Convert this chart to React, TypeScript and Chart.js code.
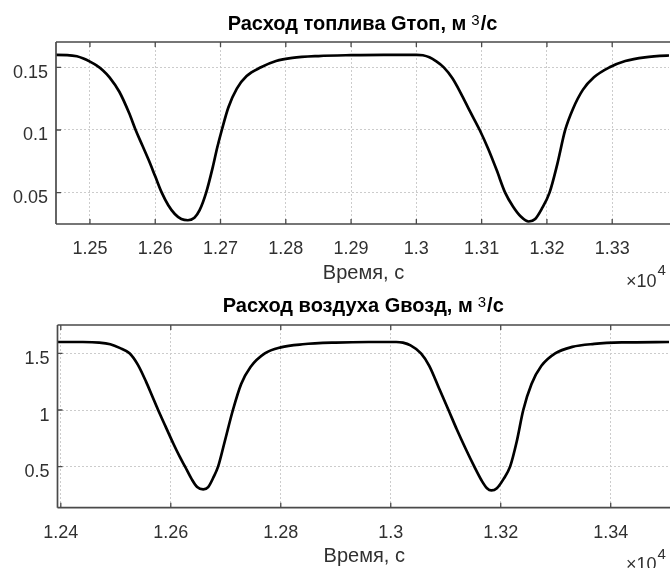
import React, { useEffect, useRef } from 'react';
import { Chart, registerables } from 'chart.js';

Chart.register(...registerables);

// ---------- data ----------
const fuelTime = [
  12440, 12465, 12480, 12490, 12500, 12510, 12520, 12530, 12545, 12560, 12570, 12580, 12590, 12600,
  12610, 12620, 12630, 12640, 12650, 12660, 12668, 12678, 12688, 12695, 12702, 12712, 12725, 12740,
  12762, 12785, 12810, 12850, 12900, 12950, 13000, 13010, 13020, 13030, 13042, 13055, 13068, 13082,
  13097, 13110, 13123, 13136, 13148, 13160, 13172, 13182, 13192, 13204, 13216, 13228, 13240, 13255,
  13272, 13296, 13320, 13350, 13400,
];
const fuelFlow = [
  0.16, 0.1598, 0.1588, 0.157, 0.1545, 0.1515, 0.1475, 0.142, 0.1305, 0.1135, 0.1, 0.088, 0.076, 0.063,
  0.05, 0.04, 0.033, 0.029, 0.028, 0.03, 0.036, 0.05, 0.07, 0.086, 0.1, 0.118, 0.133, 0.143,
  0.15, 0.155, 0.1575, 0.159, 0.1597, 0.16, 0.16, 0.1596, 0.158, 0.155, 0.15, 0.1415, 0.1295, 0.115,
  0.1, 0.085, 0.068, 0.05, 0.039, 0.031, 0.027, 0.029, 0.037, 0.05, 0.073, 0.1, 0.117, 0.132,
  0.142, 0.15, 0.155, 0.158, 0.1598,
];

const airTime = [
  12390, 12440, 12470, 12490, 12507, 12525, 12540, 12555, 12566, 12577, 12590, 12605, 12616, 12626,
  12638, 12648, 12659, 12668, 12677, 12686, 12698, 12713, 12728, 12745, 12771, 12800, 12840, 12900,
  12960, 13010, 13022, 13036, 13055, 13070, 13088, 13105, 13120, 13136, 13152, 13165, 13175, 13183,
  13193, 13205, 13217, 13229, 13241, 13256, 13274, 13299, 13330, 13370, 13420, 13510,
];
const airFlow = [
  1.6, 1.6, 1.595, 1.58, 1.548, 1.5, 1.4, 1.25, 1.125, 1.0, 0.86, 0.7, 0.59, 0.5,
  0.39, 0.32, 0.3, 0.32, 0.4, 0.5, 0.72, 1.0, 1.23, 1.38, 1.5, 1.553, 1.58, 1.595,
  1.6, 1.6, 1.594, 1.57, 1.5, 1.39, 1.19, 1.0, 0.83, 0.66, 0.5, 0.38, 0.31, 0.29,
  0.31, 0.39, 0.5, 0.72, 1.0, 1.23, 1.39, 1.5, 1.557, 1.583, 1.596, 1.6,
];

const fuelXTicks = [12500, 12600, 12700, 12800, 12900, 13000, 13100, 13200, 13300];
const fuelXLabels = ['1.25', '1.26', '1.27', '1.28', '1.29', '1.3', '1.31', '1.32', '1.33'];
const fuelYTicks = [0.05, 0.1, 0.15];
const fuelYLabels = ['0.05', '0.1', '0.15'];

const airXTicks = [12400, 12600, 12800, 13000, 13200, 13400];
const airXLabels = ['1.24', '1.26', '1.28', '1.3', '1.32', '1.34'];
const airYTicks = [0.5, 1, 1.5];
const airYLabels = ['0.5', '1', '1.5'];

const fuelTitle = 'Расход топлива Gтоп, м';
const airTitle = 'Расход воздуха Gвозд, м';
const unitPower = '3';
const unitTail = '/с';
const xAxisTitle = 'Время, с';
const expBase = '×10';
const expPower = '4';

// ---------- styling ----------
const FONT = '"Liberation Sans", Arial, Helvetica, sans-serif';
const AXIS_COLOR = '#4a4a4a';
const TEXT_COLOR = '#303030';
const GRID_COLOR = '#cccccc';

type PanelSpec = {
  height: number;
  left: number;
  top: number;
  bottom: number;
  right: number;
  xMin: number;
  xMax: number;
  yMin: number;
  yMax: number;
  time: number[];
  flow: number[];
  xTicks: number[];
  xLabels: string[];
  yTicks: number[];
  yLabels: string[];
  title: string;
  titleBaseline: number;
};

function makeDecor(p: PanelSpec) {
  return {
    id: 'matlabDecor',
    afterDraw(chart: any) {
      const { ctx, chartArea: a, scales } = chart;
      const xs = scales.x;
      const ys = scales.y;
      ctx.save();
      // box
      ctx.strokeStyle = AXIS_COLOR;
      ctx.lineWidth = 1.7;
      ctx.beginPath();
      ctx.moveTo(a.left, a.top);
      ctx.lineTo(a.right + 5, a.top);
      ctx.moveTo(a.left, a.top);
      ctx.lineTo(a.left, a.bottom);
      ctx.moveTo(a.left, a.bottom);
      ctx.lineTo(a.right + 5, a.bottom);
      ctx.stroke();
      // inward ticks
      ctx.lineWidth = 1.3;
      ctx.beginPath();
      xs.ticks.forEach((t: any) => {
        const px = xs.getPixelForValue(t.value);
        ctx.moveTo(px, a.bottom);
        ctx.lineTo(px, a.bottom - 5);
        ctx.moveTo(px, a.top);
        ctx.lineTo(px, a.top + 5);
      });
      ys.ticks.forEach((t: any) => {
        const py = ys.getPixelForValue(t.value);
        ctx.moveTo(a.left, py);
        ctx.lineTo(a.left + 5, py);
      });
      ctx.stroke();

      // tick labels
      ctx.fillStyle = TEXT_COLOR;
      ctx.font = `18px ${FONT}`;
      ctx.textBaseline = 'alphabetic';
      ctx.textAlign = 'center';
      xs.ticks.forEach((t: any) => {
        const i = p.xTicks.indexOf(t.value);
        ctx.fillText(p.xLabels[i], xs.getPixelForValue(t.value), a.bottom + 30);
      });
      ctx.textAlign = 'right';
      ys.ticks.forEach((t: any) => {
        const i = p.yTicks.indexOf(t.value);
        ctx.fillText(p.yLabels[i], a.left - 8, ys.getPixelForValue(t.value) + 10.5);
      });

      // axis title
      const cx = (a.left + a.right) / 2;
      ctx.textAlign = 'center';
      ctx.font = `20px ${FONT}`;
      ctx.fillText(xAxisTitle, cx + 1, a.bottom + 54.5);

      // exponent
      ctx.textAlign = 'left';
      ctx.font = `18px ${FONT}`;
      ctx.fillText(expBase, 626, a.bottom + 62.5);
      const bw = ctx.measureText(expBase).width;
      ctx.font = `15px ${FONT}`;
      ctx.fillText(expPower, 626 + bw + 1, a.bottom + 51);

      // title with superscript
      ctx.fillStyle = '#000';
      ctx.font = `bold 20px ${FONT}`;
      const w1 = ctx.measureText(p.title).width;
      const w3 = ctx.measureText(unitTail).width;
      ctx.font = `15px ${FONT}`;
      const w2 = ctx.measureText(unitPower).width;
      const gap = 5;
      const total = w1 + gap + w2 + 1 + w3;
      let x0 = cx - total / 2;
      ctx.font = `bold 20px ${FONT}`;
      ctx.fillText(p.title, x0, p.titleBaseline);
      x0 += w1 + gap;
      ctx.font = `15px ${FONT}`;
      ctx.fillText(unitPower, x0, p.titleBaseline - 5.5);
      x0 += w2 + 1;
      ctx.font = `bold 20px ${FONT}`;
      ctx.fillText(unitTail, x0, p.titleBaseline);
      ctx.restore();
    },
  };
}

function Panel({ spec }: { spec: PanelSpec }) {
  const ref = useRef<HTMLCanvasElement | null>(null);
  useEffect(() => {
    if (!ref.current) return;
    const p = spec;
    const chart = new Chart(ref.current, {
      type: 'line',
      data: {
        datasets: [
          {
            data: p.time.map((t, i) => ({ x: t, y: p.flow[i] })),
            borderColor: '#000',
            borderWidth: 2.7,
            pointRadius: 0,
            cubicInterpolationMode: 'monotone',
            fill: false,
          },
        ],
      },
      options: {
        animation: false,
        responsive: false,
        devicePixelRatio: 1,
        layout: { padding: { top: p.top, left: 0, right: 670 - p.right, bottom: 0 } },
        plugins: { legend: { display: false }, title: { display: false }, tooltip: { enabled: false } },
        events: [],
        scales: {
          x: {
            type: 'linear',
            min: p.xMin,
            max: p.xMax,
            afterBuildTicks: (s: any) => {
              s.ticks = p.xTicks.map((v) => ({ value: v }));
            },
            afterFit: (s: any) => {
              s.height = p.height - p.bottom;
            },
            ticks: { display: false },
            grid: { color: GRID_COLOR, lineWidth: 1, drawTicks: false },
            border: { display: false, dash: [2, 2] },
          },
          y: {
            type: 'linear',
            min: p.yMin,
            max: p.yMax,
            afterBuildTicks: (s: any) => {
              s.ticks = p.yTicks.map((v) => ({ value: v }));
            },
            afterFit: (s: any) => {
              s.width = p.left;
            },
            ticks: { display: false },
            grid: { color: GRID_COLOR, lineWidth: 1, drawTicks: false },
            border: { display: false, dash: [2, 2] },
          },
        },
      },
      plugins: [makeDecor(p)],
    } as any);
    return () => chart.destroy();
  }, [spec]);
  return (
    <canvas
      ref={ref}
      width={670}
      height={spec.height}
      style={{ display: 'block', width: 670, height: spec.height }}
    />
  );
}

const fuelSpec: PanelSpec = {
  height: 292,
  left: 56,
  top: 42,
  bottom: 224,
  right: 669,
  xMin: 12448,
  xMax: 13387,
  yMin: 0.025,
  yMax: 0.1702,
  time: fuelTime,
  flow: fuelFlow,
  xTicks: fuelXTicks,
  xLabels: fuelXLabels,
  yTicks: fuelYTicks,
  yLabels: fuelYLabels,
  title: fuelTitle,
  titleBaseline: 30,
};

const airSpec: PanelSpec = {
  height: 276,
  left: 57.5,
  top: 33,
  bottom: 215.7,
  right: 669,
  xMin: 12394,
  xMax: 13506,
  yMin: 0.138,
  yMax: 1.75,
  time: airTime,
  flow: airFlow,
  xTicks: airXTicks,
  xLabels: airXLabels,
  yTicks: airYTicks,
  yLabels: airYLabels,
  title: airTitle,
  titleBaseline: 20,
};

export default function App() {
  return (
    <div
      style={{
        position: 'absolute',
        left: 0,
        top: 0,
        width: 670,
        height: 568,
        overflow: 'hidden',
        background: '#fff',
      }}
    >
      <Panel spec={fuelSpec} />
      <Panel spec={airSpec} />
    </div>
  );
}
